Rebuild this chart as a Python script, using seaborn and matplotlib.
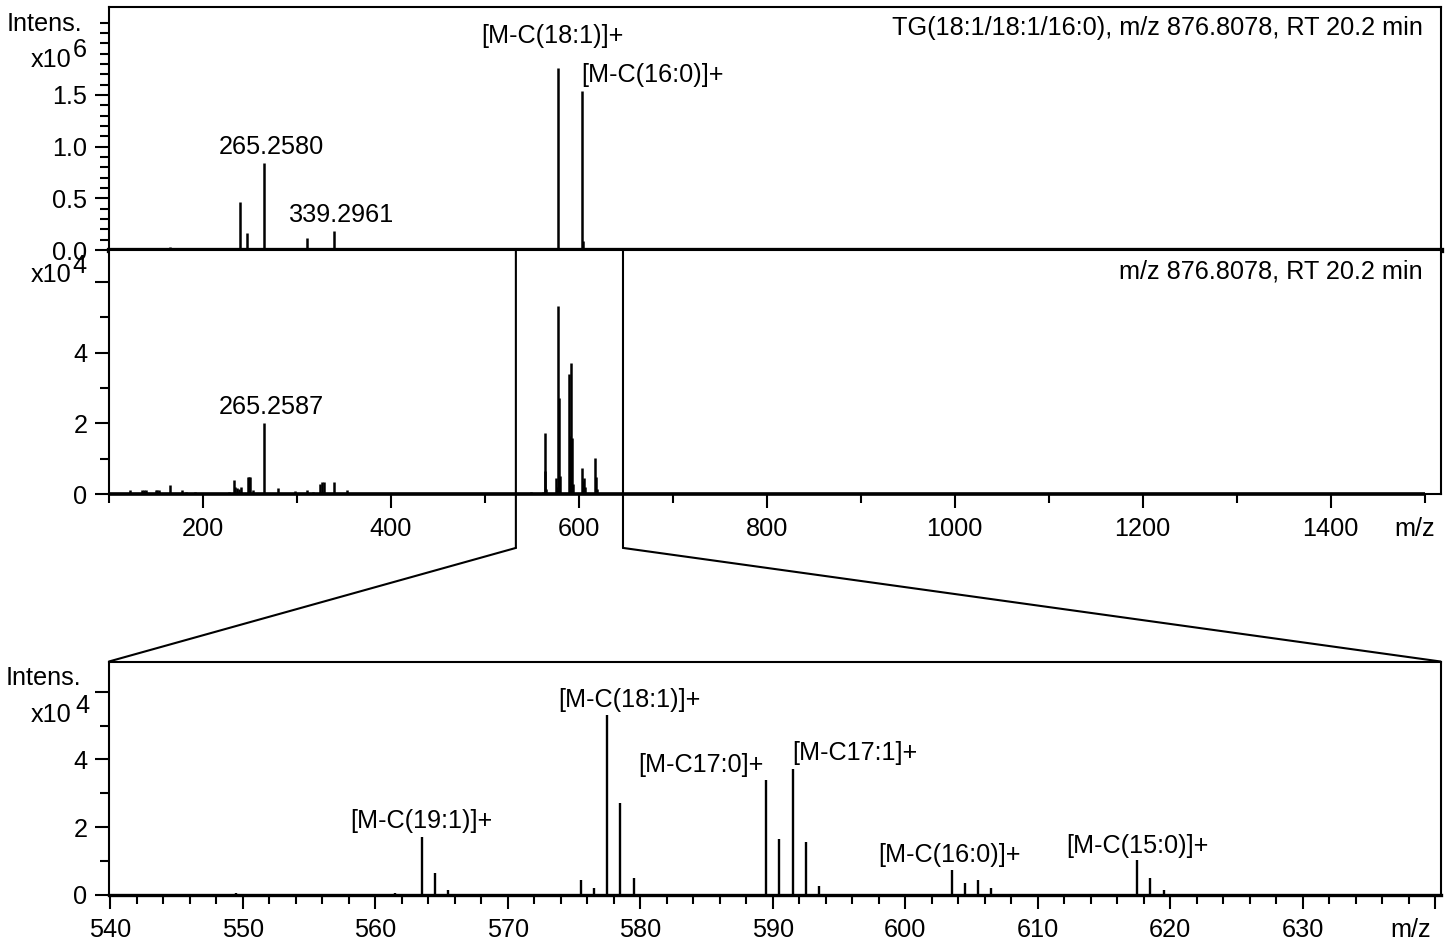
import matplotlib
matplotlib.use("Agg")
import numpy as np
import matplotlib.pyplot as plt
import seaborn as sns
from matplotlib.patches import ConnectionPatch
from matplotlib.ticker import FixedLocator, FixedFormatter

# ---- values ----
# top: MS/MS full range, intensity x10^6
top_mz = [121.1, 150.1, 165.1, 239.24, 247.24, 265.258, 311.17, 339.296, 577.52, 603.53, 604.54]
top_int = [0.008, 0.01, 0.03, 0.465, 0.16, 0.84, 0.115, 0.185, 1.76, 1.535, 0.09]
top_label_mz = [265.258, 339.296, 577.52, 603.53]
top_labels = ["265.2580", "339.2961", "[M-C(18:1)]+", "[M-C(16:0)]+"]

# middle: low mass part of the second spectrum, intensity x10^4
low_mz = [122.0, 135.0, 137.0, 139.0, 149.5, 151.5, 153.5, 165.0, 178.0, 182.0,
          192.0, 208.0, 228.0, 232.5, 234.0, 236.0, 238.0, 240.0, 248.3, 249.3,
          250.3, 253.0, 265.26, 279.4, 298.0, 311.2, 317.5, 325.0, 327.0, 328.3,
          339.3, 353.0, 877.0]
low_int = [0.11, 0.11, 0.11, 0.10, 0.12, 0.12, 0.10, 0.25, 0.11, 0.07,
           0.05, 0.04, 0.07, 0.40, 0.20, 0.18, 0.15, 0.20, 0.47, 0.47,
           0.47, 0.12, 2.01, 0.18, 0.09, 0.11, 0.07, 0.27, 0.33, 0.33,
           0.34, 0.11, 0.03]
mid_label_mz = [265.26]
mid_labels = ["265.2587"]

# zoomed region 540-640, intensity x10^4
zoom_mz = [549.5, 561.5, 563.5, 564.5, 565.5, 575.5, 576.5, 577.5, 578.5, 579.5,
           589.5, 590.5, 591.5, 592.5, 593.5, 603.5, 604.5, 605.5, 606.5,
           617.5, 618.5, 619.5]
zoom_int = [0.05, 0.07, 1.72, 0.66, 0.15, 0.44, 0.20, 5.31, 2.72, 0.51,
            3.39, 1.65, 3.71, 1.57, 0.27, 0.74, 0.36, 0.44, 0.20,
            1.03, 0.49, 0.15]
zoom_label_mz = [563.5, 577.5, 589.5, 591.5, 603.5, 617.5]
zoom_labels = ["[M-C(19:1)]+", "[M-C(18:1)]+", "[M-C17:0]+", "[M-C17:1]+",
               "[M-C(16:0)]+", "[M-C(15:0)]+"]
zoom_window = (533, 647)

top_title = "TG(18:1/18:1/16:0), m/z 876.8078, RT 20.2 min"
mid_title = "m/z 876.8078, RT 20.2 min"

FS = 18.2
sns.set_style("ticks", {"axes.edgecolor": "black", "xtick.color": "black",
                        "ytick.color": "black", "text.color": "black",
                        "axes.labelcolor": "black"})
plt.rcParams["font.family"] = ["Liberation Sans", "DejaVu Sans"]

fig = plt.figure(figsize=(14.48, 9.43), dpi=100)
L, W = 109 / 1448, (1440.5 - 109) / 1448
ax_top = fig.add_axes([L, 1 - 250 / 943, W, 243 / 943])
ax_mid = fig.add_axes([L, 1 - 494 / 943, W, 244 / 943])
ax_bot = fig.add_axes([L, 1 - 895 / 943, W, 233.5 / 943])


def stems(ax, mz, inten, lw=1.8):
    ax.vlines(mz, 0, inten, colors="black", linewidth=lw)


def label_peaks(ax, mz, inten, label_mz, labels, places):
    lookup = dict(zip(mz, inten))
    for m, t, (ha, dx, dy) in zip(label_mz, labels, places):
        ax.annotate(t, xy=(m, lookup[m]), xytext=(dx, dy), textcoords="offset points",
                    ha=ha, va="baseline", fontsize=FS)


def corner_text(ax, text, dx, dy, ha="right"):
    ax.annotate(text, xy=(0, 1), xycoords="axes fraction", xytext=(dx, dy),
                textcoords="offset points", ha=ha, va="baseline", fontsize=FS,
                annotation_clip=False)


def common(ax):
    for s in ax.spines.values():
        s.set_linewidth(1.5)
        s.set_color("black")
    ax.tick_params(which="major", length=10, width=1.5, labelsize=FS, pad=6.5)
    ax.tick_params(which="minor", length=6.5, width=1.5)
    ax.tick_params(axis="y", pad=5.5)


# ---- top ----
stems(ax_top, top_mz, top_int)
ax_top.set_xlim(100, 1517)
ax_top.set_ylim(0, 2.35)
common(ax_top)
ax_top.spines["bottom"].set_linewidth(3.8)
ax_top.tick_params(axis="x", which="both", bottom=False, labelbottom=False)
ax_top.yaxis.set_major_locator(FixedLocator([0, 0.5, 1.0, 1.5]))
ax_top.yaxis.set_major_formatter(FixedFormatter(["0.0", "0.5", "1.0", "1.5"]))
ax_top.yaxis.set_minor_locator(FixedLocator(np.arange(0, 2.25, 0.1)))
label_peaks(ax_top, top_mz, top_int, top_label_mz, top_labels,
            [("center", 5, 6.5), ("center", 5.5, 6.5), ("center", -3.5, 18), ("left", -0.5, 6.7)])
ax_top.annotate(top_title, xy=(1, 1), xycoords="axes fraction", xytext=(-12.6, -20.5),
                textcoords="offset points", ha="right", va="baseline", fontsize=FS)
corner_text(ax_top, "Intens.", -19.4, -17.5)
corner_text(ax_top, "x10", -26.9, -43)
corner_text(ax_top, "6", -26.1, -35.8, ha="left")

# ---- middle ----
mid_mz = low_mz + zoom_mz
mid_int = low_int + zoom_int
stems(ax_mid, mid_mz, mid_int)
ax_mid.hlines(0, 100, 1500, colors="black", linewidth=2.6, clip_on=False)
ax_mid.set_xlim(100, 1517)
ax_mid.set_ylim(0, 6.9)
common(ax_mid)
ax_mid.xaxis.set_major_locator(FixedLocator(range(200, 1401, 200)))
ax_mid.xaxis.set_minor_locator(FixedLocator(range(100, 1501, 200)))
ax_mid.yaxis.set_major_locator(FixedLocator([0, 2, 4, 6]))
ax_mid.yaxis.set_major_formatter(FixedFormatter(["0", "2", "4", ""]))
ax_mid.yaxis.set_minor_locator(FixedLocator([1, 3, 5]))
label_peaks(ax_mid, mid_mz, mid_int, mid_label_mz, mid_labels, [("center", 5, 6.5)])
ax_mid.annotate(mid_title, xy=(1, 1), xycoords="axes fraction", xytext=(-12.6, -20.5),
                textcoords="offset points", ha="right", va="baseline", fontsize=FS)
corner_text(ax_mid, "x10", -26.9, -22.8)
corner_text(ax_mid, "4", -26.1, -16.8, ha="left")
ax_mid.annotate("m/z", xy=(1, 0), xycoords="axes fraction", xytext=(-4, -16.5),
                textcoords="offset points", ha="right", va="top", fontsize=FS)

# ---- bottom (zoom) ----
stems(ax_bot, zoom_mz, zoom_int, lw=1.7)
ax_bot.set_xlim(539.9, 640.4)
ax_bot.set_ylim(0, 6.89)
common(ax_bot)
ax_bot.spines["bottom"].set_linewidth(2.4)
ax_bot.xaxis.set_major_locator(FixedLocator(range(540, 641, 10)))
ax_bot.xaxis.set_major_formatter(FixedFormatter([str(v) for v in range(540, 631, 10)] + [""]))
ax_bot.xaxis.set_minor_locator(FixedLocator(range(542, 640, 2)))
ax_bot.yaxis.set_major_locator(FixedLocator([0, 2, 4, 6]))
ax_bot.yaxis.set_major_formatter(FixedFormatter(["0", "2", "4", ""]))
ax_bot.yaxis.set_minor_locator(FixedLocator([1, 3, 5]))
label_peaks(ax_bot, zoom_mz, zoom_int, zoom_label_mz, zoom_labels,
            [("center", 0, 6), ("center", 16, 6), ("right", -2, 6),
             ("left", 0, 6.5), ("center", -1.5, 6), ("center", 0, 5)])
corner_text(ax_bot, "Intens.", -19.7, -16.9)
corner_text(ax_bot, "x10", -26.9, -43.3)
corner_text(ax_bot, "4", -24.5, -37.3, ha="left")
ax_bot.annotate("m/z", xy=(1, 0), xycoords="axes fraction", xytext=(-6.7, -16.5),
                textcoords="offset points", ha="right", va="top", fontsize=FS)

# ---- zoom window and connectors ----
xt = ax_mid.get_xaxis_transform()
for x0, corner in zip(zoom_window, [(0, 1), (1, 1)]):
    fig.add_artist(ConnectionPatch(xyA=(x0, 1), coordsA=xt, xyB=(x0, -0.221), coordsB=xt,
                                   color="black", linewidth=1.5))
    fig.add_artist(ConnectionPatch(xyA=(x0, -0.221), coordsA=xt, xyB=corner,
                                   coordsB=ax_bot.transAxes, color="black", linewidth=1.5))

fig.savefig("out.png", dpi=100)
